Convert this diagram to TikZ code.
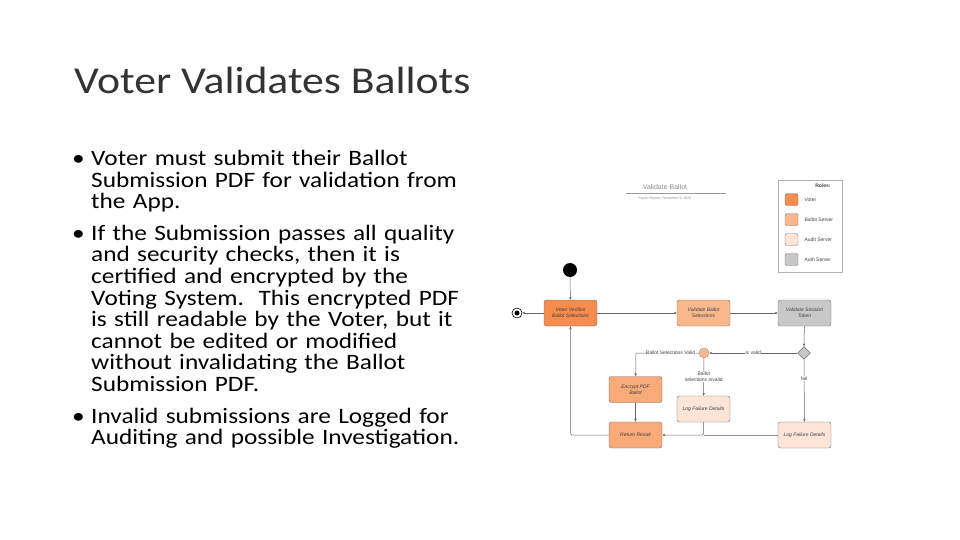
\documentclass[tikz,border=0pt]{standalone}
\usepackage{fontspec}
\setmainfont{Carlito}
\newfontfamily\body[FakeStretch=1.15]{Carlito}
\newfontfamily\dia{Liberation Sans}
\usetikzlibrary{arrows.meta,shapes.geometric}
\definecolor{vo}{HTML}{F58B4C}
\definecolor{bs}{HTML}{F9B88B}
\definecolor{as}{HTML}{FCE4D6}
\definecolor{gr}{HTML}{C8C8C8}
\definecolor{tx}{HTML}{404040}
\begin{document}
\begin{tikzpicture}[x=1pt,y=-1pt,
  box/.style={draw=black!55,rounded corners=2.5pt,minimum width=53pt,minimum height=26pt,inner sep=1pt,align=center,font=\dia\fontsize{5}{6}\selectfont\itshape,text=tx},
  sw/.style={draw=black!50,rounded corners=1.5pt,minimum width=13pt,minimum height=12pt,inner sep=0},
  lt/.style={font=\dia\fontsize{5}{6}\selectfont,text=tx,anchor=west},
  ar/.style={draw=black!60,line width=0.5pt,-{Stealth[length=3pt,width=2.5pt]}},
  ln/.style={fill=white,inner sep=0.5pt,font=\dia\fontsize{5}{6}\selectfont,text=tx,align=center}]
\useasboundingbox (0,0) rectangle (960,540);
\node[anchor=base west,font=\body\fontsize{38}{40}\selectfont,text=black!80,inner sep=0] (title) at (74,94) {Voter Validates Ballots};
\node[anchor=north west,text width=420pt,font=\body\fontsize{22}{21.6}\selectfont,text=black,inner sep=0] (bl) at (72,150) {%
\raggedright\parindent=0pt\leftskip=19pt\parskip=10pt
\hspace*{-19pt}\makebox[19pt][l]{•}Voter must submit their Ballot\\ Submission PDF for validation from\\ the App.\par
\hspace*{-19pt}\makebox[19pt][l]{•}If the Submission passes all quality\\ and security checks, then it is\\ certified and encrypted by the\\ Voting System.\ \ This encrypted PDF\\ is still readable by the Voter, but it\\ cannot be edited or modified\\ without invalidating the Ballot\\ Submission PDF.\par
\hspace*{-19pt}\makebox[19pt][l]{•}Invalid submissions are Logged for\\ Auditing and possible Investigation.\par};
% diagram header
\node[font=\dia\fontsize{7}{8}\selectfont,text=black!45] (dt) at (665,187) {Validate Ballot};
\draw[black!40,line width=0.5pt] (626,193) -- (726,193);
\node[font=\dia\fontsize{3.5}{4}\selectfont,text=black!45] (ds) at (665,199) {Payan Bryant \textbar\ November 9, 2020};
% legend
\node[draw=black!30,minimum width=64pt,minimum height=92pt,inner sep=0] (leg) at (810,226) {};
\node[font=\dia\bfseries\fontsize{5}{6}\selectfont,text=tx] (rl) at (823,186) {Roles:};
\node[sw,fill=vo] (s1) at (791.5,199.5) {}; \node[lt] at (801,199.5) {Voter};
\node[sw,fill=bs] (s2) at (791.5,219.5) {}; \node[lt] at (801,219.5) {Ballot Server};
\node[sw,fill=as] (s3) at (791.5,239.5) {}; \node[lt] at (801,239.5) {Audit Server};
\node[sw,fill=gr] (s4) at (791.5,259.5) {}; \node[lt] at (801,259.5) {Auth Server};
% nodes
\node[circle,fill=black,minimum size=14pt,inner sep=0] (st) at (570,270) {};
\node[circle,draw=black,line width=0.6pt,fill=white,minimum size=10pt,inner sep=0] (en) at (517,313) {};
\node[circle,fill=black,minimum size=5pt,inner sep=0] at (en) {};
\node[box,fill=vo] (vv) at (570.5,313) {Voter Verifies\\Ballot Selections};
\node[box,fill=bs] (vb) at (703.5,313) {Validate Ballot\\Selections};
\node[box,fill=gr] (vt) at (804.5,313) {Validate Session\\Token};
\node[diamond,draw=black!70,fill=gr,minimum size=13pt,inner sep=0] (dm) at (804,353) {};
\node[circle,draw=black!40,fill=bs,minimum size=10pt,inner sep=0] (oc) at (704,353) {};
\node[box,fill=bs!70!vo] (ep) at (635.5,389.5) {Encrypt PDF\\Ballot};
\node[box,fill=as] (lf1) at (703.5,409) {Log Failure Details};
\node[box,fill=bs!70!vo] (rr) at (635.5,435) {Return Result};
\node[box,fill=as] (lf2) at (804.5,435) {Log Failure Details};
% edges
\draw[ar] (st) -- (vv);
\draw[ar] (vv) -- (vb);
\draw[ar] (vb) -- (vt);
\draw[ar] (vt) -- (dm);
\draw[ar] (dm) -- node[ln]{is valid} (oc);
\draw[ar] (oc) -- node[ln,pos=0.45]{Ballot Selections Valid} (636,353) -- (ep);
\draw[ar] (oc) -- node[ln,pos=0.5]{Ballot\\selections invalid} (lf1);
\draw[ar] (dm) -- node[ln,pos=0.3]{fail} (lf2);
\draw[ar] (ep) -- (rr);
\draw[ar,rounded corners=2pt] (lf1.south) -- (703.5,435) -- (rr.east);
\draw[draw=black!40,line width=0.5pt] (lf2.west) -- (703.5,435);
\draw[ar,rounded corners=2pt] (rr.west) -- (570.5,435) -- (vv.south);
\draw[ar] (vv.west) -- (en);
\end{tikzpicture}
\end{document}
